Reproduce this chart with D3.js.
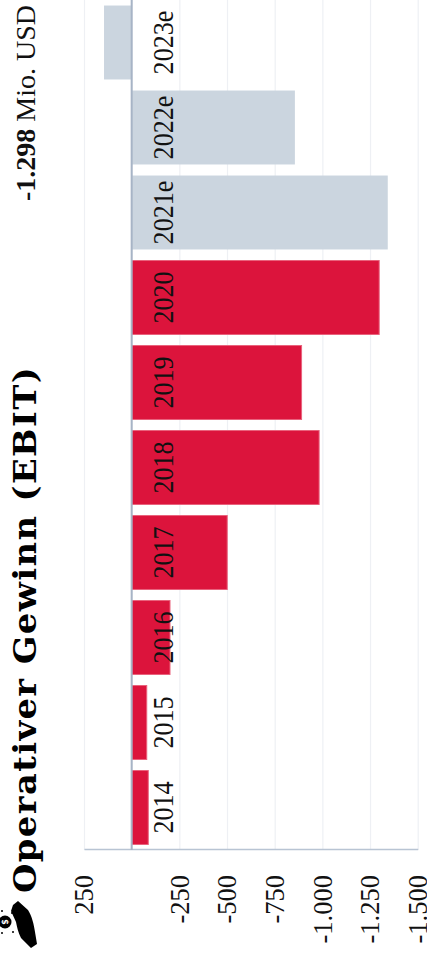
<!DOCTYPE html>
<html>
<head>
<meta charset="utf-8">
<script src="https://cdn.jsdelivr.net/npm/d3@7"></script>
<style>
  html, body { margin: 0; padding: 0; background: #fff; }
  svg { display: block; }
</style>
</head>
<body>
<svg id="chart" width="427" height="965"></svg>
<script>
// ---- data ----
const categories = ["2014", "2015", "2016", "2017", "2018", "2019", "2020", "2021e", "2022e", "2023e"];
const values = [-87, -79, -201, -501, -983, -891, -1298, -1343, -856, 145];
const tickValues = [250, -250, -500, -750, -1000, -1250, -1500];
const tickLabels = ["250", "-250", "-500", "-750", "-1.000", "-1.250", "-1.500"];
const gridValues = [250, 0, -250, -500, -750, -1000, -1250, -1500];
const titleText = "Operativer Gewinn (EBIT)";
const headlineValue = "-1.298";
const headlineUnit = " Mio. USD";

// ---- layout (chart drawn in landscape, then rotated -90deg) ----
const W = 965, H = 427;
const svg = d3.select("#chart");
const g = svg.append("g").attr("transform", `translate(0,${W}) rotate(-90)`);

const x = d3.scaleBand().domain(categories).range([115, 965]).paddingInner(0.13).paddingOuter(0.065);
const y = d3.scaleLinear().domain([250, -1500]).range([84, 417.7]);

const red = "#dc143c", grey = "#cbd5df";
const serif = "'Liberation Serif', 'Times New Roman', serif";

// gridlines
const grid = g.append("g").attr("transform", "translate(115,0)")
  .call(d3.axisLeft(y).tickValues(gridValues).tickSize(-850).tickFormat(""));
grid.select(".domain").remove();
grid.selectAll(".tick line").attr("stroke", "#eef0f4").attr("stroke-width", 1.2);

// axis with labels
const axis = g.append("g").attr("transform", "translate(115,0)")
  .call(d3.axisLeft(y).tickValues(tickValues).tickSize(0).tickPadding(25)
    .tickFormat((d, i) => tickLabels[i]));
axis.select(".domain").attr("stroke", "#b8c4d3").attr("stroke-width", 1.6);
axis.selectAll(".tick text")
  .attr("font-family", serif)
  .attr("font-size", 26.5).attr("fill", "#111").attr("dy", "0.33em");

// bars
g.selectAll("rect.bar").data(categories).enter().append("rect")
  .attr("class", "bar")
  .attr("x", d => x(d))
  .attr("width", x.bandwidth())
  .attr("y", (d, i) => Math.min(y(0), y(values[i])))
  .attr("height", (d, i) => Math.abs(y(values[i]) - y(0)))
  .attr("fill", d => d.endsWith("e") ? grey : red)
  .attr("stroke", d => d.endsWith("e") ? "none" : "#e9627c")
  .attr("stroke-width", 1);

// zero line
g.append("line")
  .attr("x1", 115).attr("x2", 965)
  .attr("y1", y(0)).attr("y2", y(0))
  .attr("stroke", "#a7b4c6").attr("stroke-width", 2);

// category labels
g.selectAll("text.cat").data(categories).enter().append("text")
  .attr("class", "cat")
  .attr("transform", d => `translate(${x(d) + x.bandwidth() / 2},${y(0) + 41}) scale(0.9,1)`)
  .attr("text-anchor", "middle")
  .attr("font-family", serif)
  .attr("font-size", 29).attr("fill", "#111")
  .text(d => d);

// title: partly widened glyphs, partly letter spacing
const title = g.append("text")
  .attr("font-family", "'DejaVu Serif', serif")
  .attr("font-weight", "bold").attr("font-size", 31.5).attr("fill", "#000")
  .text(titleText);
const natural = title.node().getComputedTextLength();
const target = 526;
const sx = 1 + (target / natural - 1) * 0.5;
const ls = (target / sx - natural) / (titleText.length - 1);
title.attr("letter-spacing", ls.toFixed(2))
  .attr("transform", `translate(72,36) scale(${sx.toFixed(3)},1)`);

// headline value
const hv = g.append("text")
  .attr("x", 960).attr("y", 35).attr("text-anchor", "end")
  .attr("font-family", serif)
  .attr("font-size", 28).attr("fill", "#111");
hv.append("tspan").attr("font-weight", "bold").text(headlineValue);
hv.append("tspan").text(headlineUnit);

// icon (hand with coin), screen coordinates
const icon = svg.append("g");
icon.append("path")
  .attr("d", "M13,905 L18,901 L28,910 C32,916 34,925 35,932 L37,944 L31,948 L21,938 C18,932 17,927 16,922 L11,911 Z")
  .attr("fill", "#000");
icon.append("path")
  .attr("d", "M19,914 C24,919 26,925 26,933 L20,934 C20,928 19,923 15,919 Z")
  .attr("fill", "#000");
icon.append("circle").attr("cx", 5).attr("cy", 922).attr("r", 6.5).attr("fill", "#000");
icon.append("text").attr("x", 5).attr("y", 922).attr("dy", "0.35em")
  .attr("text-anchor", "middle").attr("font-size", 8).attr("font-weight", "bold")
  .attr("font-family", "'DejaVu Sans', sans-serif").attr("fill", "#fff")
  .attr("transform", "rotate(-90,5,922)").text("$");
[[2, 911], [12, 913], [13, 932], [2, 933]].forEach(p => {
  icon.append("circle").attr("cx", p[0]).attr("cy", p[1]).attr("r", 1).attr("fill", "#000");
});
</script>
</body>
</html>
